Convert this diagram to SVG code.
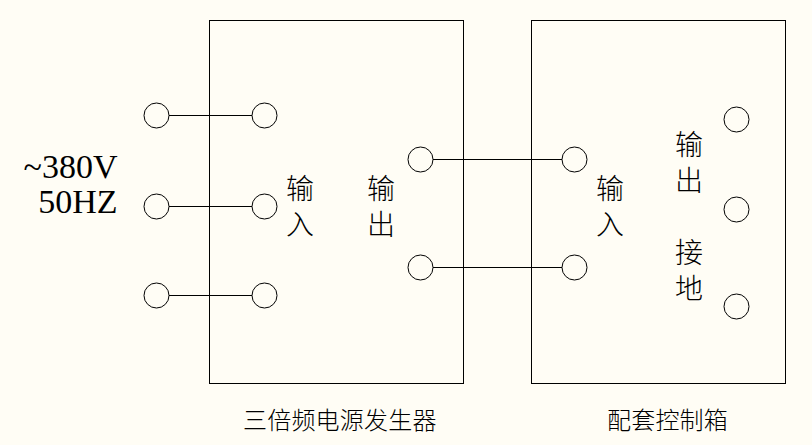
<svg xmlns="http://www.w3.org/2000/svg" width="812" height="445" viewBox="0 0 812 445">
<style>
.box{fill:none;stroke:#000;stroke-width:1}
.t{fill:none;stroke:#000;stroke-width:1}
.w{stroke:#000;stroke-width:1;fill:none}
.cn{font-family:"Noto Sans CJK SC",sans-serif;font-size:28px;font-weight:300;fill:#000;text-anchor:middle}
.cap{font-family:"Noto Sans CJK SC",sans-serif;font-size:24px;font-weight:300;fill:#000;letter-spacing:0.2px}
.v{font-family:"Liberation Serif",serif;font-size:34px;fill:#000;text-anchor:end}
</style>
<rect width="812" height="445" fill="#fffdf5"/>
<g id="box1"><rect class="box" x="209.500" y="20.500" width="254" height="363"/></g>
<g id="box2"><rect class="box" x="531.500" y="20.500" width="254" height="363"/></g>
<g id="connectors">
<path class="w" d="M169 115.500H252M169 206.500H252M169 295.500H252M433 159.500H562M433 267.500H562"/>
</g>
<g id="t1"><circle class="t" cx="156.500" cy="115.500" r="12.500"/></g>
<g id="t2"><circle class="t" cx="156.500" cy="206.500" r="12.500"/></g>
<g id="t3"><circle class="t" cx="156.500" cy="295.500" r="12.500"/></g>
<g id="t4"><circle class="t" cx="264.500" cy="115.500" r="12.500"/></g>
<g id="t5"><circle class="t" cx="264.500" cy="206.500" r="12.500"/></g>
<g id="t6"><circle class="t" cx="264.500" cy="295.500" r="12.500"/></g>
<g id="t7"><circle class="t" cx="420.500" cy="159.500" r="12.500"/></g>
<g id="t8"><circle class="t" cx="420.500" cy="267.500" r="12.500"/></g>
<g id="t9"><circle class="t" cx="574.500" cy="159.500" r="12.500"/></g>
<g id="t10"><circle class="t" cx="574.500" cy="267.500" r="12.500"/></g>
<g id="t11"><circle class="t" cx="736.500" cy="119.500" r="12.500"/></g>
<g id="t12"><circle class="t" cx="736.500" cy="209.500" r="12.500"/></g>
<g id="t13"><circle class="t" cx="736.500" cy="306.500" r="12.500"/></g>
<g id="labels">
<text class="v" x="117.500" y="178">~380V</text>
<text class="v" x="117.500" y="213">50HZ</text>
<text class="cn"><tspan x="300" y="199">输</tspan><tspan x="300" y="235">入</tspan></text>
<text class="cn"><tspan x="381" y="199">输</tspan><tspan x="381" y="235">出</tspan></text>
<text class="cn"><tspan x="610" y="199">输</tspan><tspan x="610" y="235">入</tspan></text>
<text class="cn"><tspan x="689" y="155">输</tspan><tspan x="689" y="191">出</tspan></text>
<text class="cn"><tspan x="689" y="263">接</tspan><tspan x="689" y="299">地</tspan></text>
<text class="cap" x="243" y="429">三倍频电源发生器</text>
<text class="cap" x="607" y="429">配套控制箱</text>
</g>
</svg>
